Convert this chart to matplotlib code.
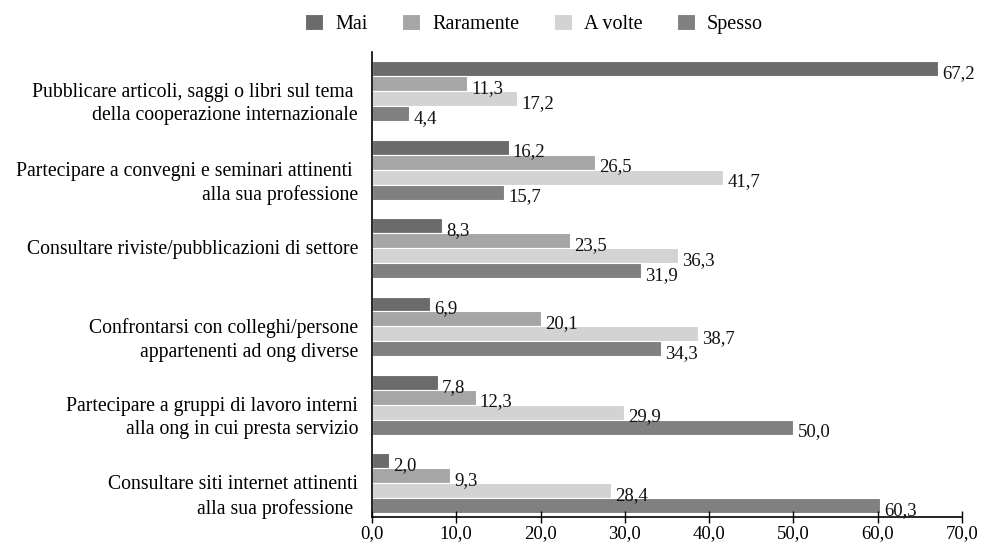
import matplotlib
matplotlib.use("Agg")
import matplotlib.pyplot as plt
import matplotlib.transforms as mtransforms
import numpy as np

plt.rcParams['font.family'] = ['Liberation Serif', 'DejaVu Serif']

categories = [
    "Pubblicare articoli, saggi o libri sul tema \ndella cooperazione internazionale",
    "Partecipare a convegni e seminari attinenti \nalla sua professione",
    "Consultare riviste/pubblicazioni di settore",
    "Confrontarsi con colleghi/persone\nappartenenti ad ong diverse",
    "Partecipare a gruppi di lavoro interni\nalla ong in cui presta servizio",
    "Consultare siti internet attinenti\nalla sua professione ",
]
series_names = ["Mai", "Raramente", "A volte", "Spesso"]
mai = [67.2, 16.2, 8.3, 6.9, 7.8, 2.0]
raramente = [11.3, 26.5, 23.5, 20.1, 12.3, 9.3]
a_volte = [17.2, 41.7, 36.3, 38.7, 29.9, 28.4]
spesso = [4.4, 15.7, 31.9, 34.3, 50.0, 60.3]
x_ticks = [0, 10, 20, 30, 40, 50, 60, 70]

colors = ["#6b6b6b", "#a6a6a6", "#d3d3d3", "#808080"]
series = [mai, raramente, a_volte, spesso]

fig = plt.figure(figsize=(9.89, 5.51), dpi=100)
ax = fig.add_axes([0.3761, 0.0617, 0.5966, 0.8439])

pos = np.arange(len(categories))
h = 0.191
handles = []
for k, (vals, col, name) in enumerate(zip(series, colors, series_names)):
    y = pos + (k - 1.5) * h
    b = ax.barh(y, vals, height=h, color=col, edgecolor="white", linewidth=0.8, label=name)
    handles.append(b)
    for yi, v in zip(y, vals):
        ax.text(v + 0.5, yi + 0.06, f"{v:.1f}".replace(".", ","), va="center", ha="left",
                fontsize=13.5, color="#111111")

ax.set_ylim(5.43, -0.50)
ax.set_xlim(0, 70)
ax.set_yticks(pos)
ax.set_yticklabels(categories, fontsize=14.2, ha="right", va="top", linespacing=1.3)
ax.tick_params(axis="y", length=0, pad=10)
# first line of each category label sits level with the group centre
lift = mtransforms.ScaledTranslation(0, 0.08, fig.dpi_scale_trans)
for lab in ax.get_yticklabels():
    lab.set_transform(lab.get_transform() + lift)
ax.set_xticks(x_ticks)
ax.set_xticklabels([f"{t:.1f}".replace(".", ",") for t in x_ticks], fontsize=13.5)
ax.tick_params(axis="x", direction="inout", length=8, width=1, pad=2)
for s in ["top", "right"]:
    ax.spines[s].set_visible(False)
ax.spines["left"].set_linewidth(1.2)
ax.spines["bottom"].set_linewidth(1.2)

fig.legend(handles=handles, labels=series_names, loc="upper center", ncol=4,
           bbox_to_anchor=(0.54, 1.008), frameon=False, fontsize=14.5,
           handlelength=0.9, handleheight=0.9, columnspacing=1.7, handletextpad=0.6)

fig.savefig("out.png", dpi=100)
